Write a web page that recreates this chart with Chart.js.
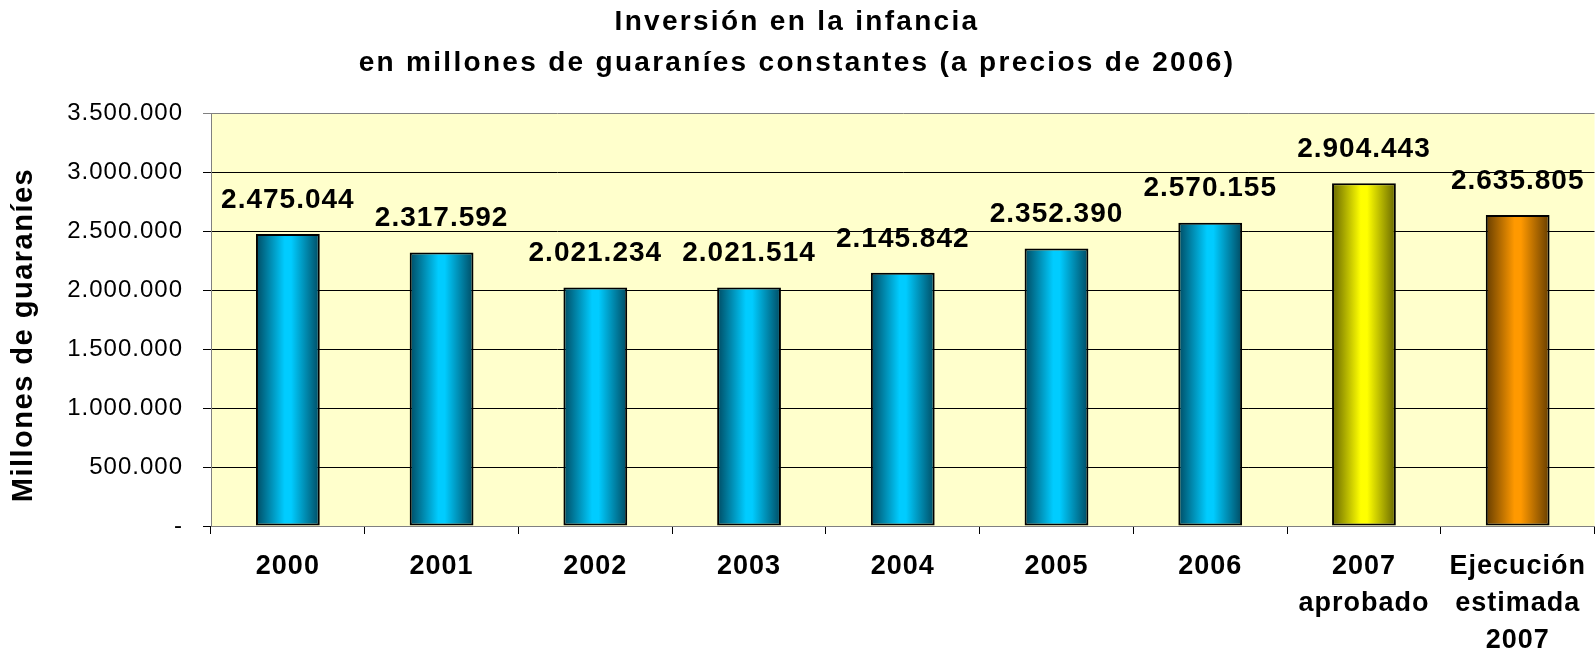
<!DOCTYPE html>
<html>
<head>
<meta charset="utf-8">
<script src="https://cdn.jsdelivr.net/npm/chart.js@4/dist/chart.umd.min.js"></script>
<style>
  html, body { margin: 0; padding: 0; background: #fff; overflow: hidden; }
  #wrap { width: 1600px; height: 660px; }
</style>
</head>
<body>
<div id="wrap"><canvas id="chart" width="1600" height="660"></canvas></div>
<script>
// ---------- DATA ----------
const titleLines = ['Inversión en la infancia', 'en millones de guaraníes constantes (a precios de 2006)'];
const yTitle = 'Millones de guaraníes';
const categories = [
  ['2000'], ['2001'], ['2002'], ['2003'], ['2004'], ['2005'], ['2006'],
  ['2007', 'aprobado'],
  ['Ejecución', 'estimada', '2007']
];
const values = [2475044, 2317592, 2021234, 2021514, 2145842, 2352390, 2570155, 2904443, 2635805];
const yTicks = [0, 500000, 1000000, 1500000, 2000000, 2500000, 3000000, 3500000];

// bar colours: bright centre, dark edges
const barLight = ['#00CCFF', '#00CCFF', '#00CCFF', '#00CCFF', '#00CCFF', '#00CCFF', '#00CCFF', '#FFFF00', '#FF9900'];
const barDark  = ['#004B63', '#004B63', '#004B63', '#004B63', '#004B63', '#004B63', '#004B63', '#666600', '#663D00'];

const BAR_PCT = 0.415;
const FONT = '"Liberation Sans", Arial, sans-serif';

// ---------- UTIL ----------
function fmt(v) {
  if (v === 0) return '-';
  return String(v).replace(/\B(?=(\d{3})+(?!\d))/g, '.');
}

// gradient per bar, across the bar's own width (taken from the x scale)
function barFill(ctx) {
  const chart = ctx.chart;
  const xs = chart.scales.x;
  const i = ctx.dataIndex;
  if (!chart.chartArea || !xs || !xs.width) return barLight[i];
  const cx = xs.getPixelForValue(i);
  const w = (xs.width / categories.length) * BAR_PCT;
  const g = chart.ctx.createLinearGradient(cx - w / 2, 0, cx + w / 2, 0);
  g.addColorStop(0, barDark[i]);
  g.addColorStop(0.45, barLight[i]);
  g.addColorStop(0.55, barLight[i]);
  g.addColorStop(1, barDark[i]);
  return g;
}

// ---------- PLUGINS ----------
const spacingPlugin = {
  id: 'spacing',
  beforeLayout(chart) { chart.ctx.letterSpacing = '1px'; },
  beforeDraw(chart) { chart.ctx.letterSpacing = '1px'; }
};

const plotBg = {
  id: 'plotBg',
  beforeDraw(chart) {
    const { ctx, chartArea: a } = chart;
    ctx.save();
    ctx.fillStyle = '#FFFFCC';
    ctx.fillRect(a.left, a.top, a.right - a.left, a.bottom - a.top);
    ctx.restore();
  }
};

const titlePlugin = {
  id: 'bigTitle',
  afterDraw(chart) {
    const ctx = chart.ctx;
    ctx.save();
    ctx.fillStyle = '#000';
    ctx.font = 'bold 28px ' + FONT;
    ctx.letterSpacing = '2.3px';
    ctx.textAlign = 'center';
    ctx.textBaseline = 'middle';
    ctx.fillText(titleLines[0], 797, 22);
    ctx.fillText(titleLines[1], 797, 63);

    // y axis title, rotated
    ctx.font = 'bold 29px ' + FONT;
    ctx.letterSpacing = '1.5px';
    ctx.translate(24, 335);
    ctx.rotate(-Math.PI / 2);
    ctx.fillText(yTitle, 0, 0);
    ctx.restore();
  }
};

const valueLabels = {
  id: 'valueLabels',
  afterDatasetsDraw(chart) {
    const ctx = chart.ctx;
    const meta = chart.getDatasetMeta(0);
    ctx.save();
    ctx.fillStyle = '#000';
    ctx.font = 'bold 28px ' + FONT;
    ctx.letterSpacing = '1px';
    ctx.textAlign = 'center';
    ctx.textBaseline = 'middle';
    meta.data.forEach((bar, i) => {
      ctx.fillText(fmt(values[i]), bar.x, bar.y - 34);
    });
    ctx.restore();
  }
};

// ---------- CHART ----------
new Chart(document.getElementById('chart'), {
  type: 'bar',
  data: {
    labels: categories,
    datasets: [{
      data: values,
      backgroundColor: barFill,
      borderColor: '#000',
      borderWidth: 2,
      borderSkipped: false,
      barPercentage: BAR_PCT,
      categoryPercentage: 1
    }]
  },
  options: {
    responsive: false,
    devicePixelRatio: 1,
    animation: false,
    layout: { padding: { top: 113, right: 1, left: 0, bottom: 0 } },
    plugins: {
      legend: { display: false },
      title: { display: false },
      tooltip: { enabled: false }
    },
    scales: {
      x: {
        offset: true,
        grid: {
          offset: true,
          drawOnChartArea: false,
          drawTicks: true,
          tickLength: 8,
          color: '#000'
        },
        border: { color: '#808080', width: 1 },
        ticks: {
          color: '#000',
          padding: 14,
          maxRotation: 0,
          autoSkip: false,
          font: { family: FONT, size: 27, weight: 'bold', lineHeight: 1.37 }
        },
        afterFit(s) { s.height = 660 - 526; }
      },
      y: {
        min: 0,
        max: 3500000,
        afterBuildTicks(s) { s.ticks = yTicks.map(v => ({ value: v })); },
        grid: {
          color: ctx => (ctx.tick && ctx.tick.value === 3500000) ? '#808080' : '#000',
          lineWidth: 1,
          tickLength: 8
        },
        border: { color: '#808080', width: 1 },
        ticks: {
          color: '#000',
          padding: 20,
          font: { family: FONT, size: 24 },
          callback: v => fmt(v)
        },
        title: { display: false },
        afterFit(s) { s.width = 211; }
      }
    }
  },
  plugins: [spacingPlugin, plotBg, valueLabels, titlePlugin]
});
</script>
</body>
</html>
